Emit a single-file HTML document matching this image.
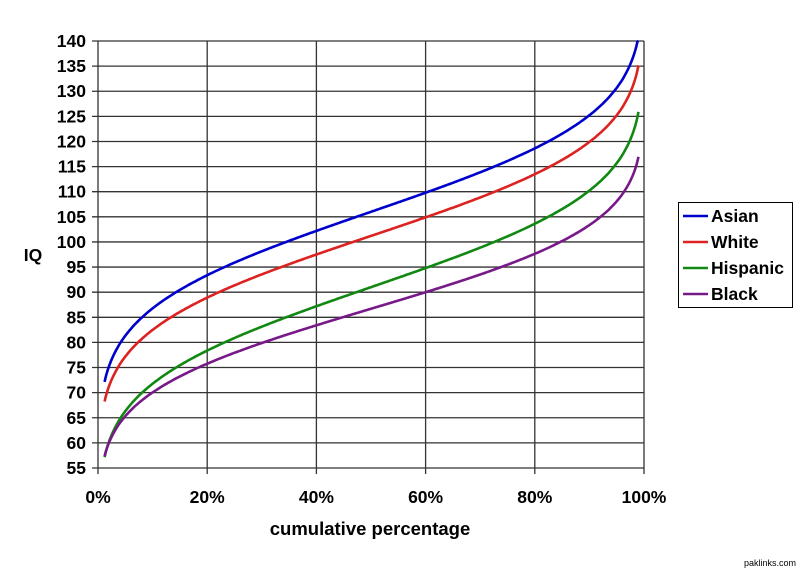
<!DOCTYPE html>
<html><head><meta charset="utf-8"><style>
body{margin:0;background:#fff;}
svg{display:block;font-family:"Liberation Sans",Arial,sans-serif;font-weight:bold;}
</style></head><body>
<svg id="s" width="802" height="571" viewBox="0 0 802 571">
<rect width="802" height="571" fill="#fff"/>
<g id="grid" stroke="#333" stroke-width="1.3"></g>
<g id="ylab" font-size="17.5" text-anchor="end" fill="#000"></g>
<g id="xlab" font-size="17.5" text-anchor="middle" fill="#000"></g>
<g id="curves" fill="none" stroke-width="2.6"></g>
<text x="33" y="261" font-size="17.5" text-anchor="middle">IQ</text>
<text x="370" y="535" font-size="18.5" text-anchor="middle">cumulative percentage</text>
<rect x="678.5" y="202.5" width="114" height="105" fill="#fff" stroke="#000" stroke-width="1"/>
<g font-size="17.5">
<line x1="683" y1="216" x2="708" y2="216" stroke="#0000cc" stroke-width="2.6"/><text x="711" y="222">Asian</text>
<line x1="683" y1="242" x2="708" y2="242" stroke="#dd2222" stroke-width="2.6"/><text x="711" y="248">White</text>
<line x1="683" y1="268" x2="708" y2="268" stroke="#118811" stroke-width="2.6"/><text x="711" y="274">Hispanic</text>
<line x1="683" y1="294" x2="708" y2="294" stroke="#771a88" stroke-width="2.6"/><text x="711" y="300">Black</text>
</g>
<text x="796" y="566" font-size="9" text-anchor="end" font-weight="normal">paklinks.com</text>
</svg>
<script>
var L=98,R=644,T=41,B=468;
function X(p){return L+(R-L)*p;}
function Y(v){return B-(v-55)/85*(B-T);}
var g=document.getElementById('grid'),yl=document.getElementById('ylab'),xl=document.getElementById('xlab');
var h='',t='';
for(var v=55;v<=140;v+=5){var y=Y(v);h+='<line x1="'+(L-6)+'" y1="'+y+'" x2="'+R+'" y2="'+y+'"/>';t+='<text x="86" y="'+(y+6)+'">'+v+'</text>';}
var tx='';
for(var i=0;i<=5;i++){var x=X(i/5);h+='<line x1="'+x+'" y1="'+T+'" x2="'+x+'" y2="'+(B+6)+'"/>';tx+='<text x="'+x+'" y="503">'+(i*20)+'%</text>';}
g.innerHTML=h;yl.innerHTML=t;xl.innerHTML=tx;
function inv(p){var a=[-39.6968302866538,220.946098424521,-275.928510446969,138.357751867269,-30.6647980661472,2.50662827745924],
b=[-54.4760987982241,161.585836858041,-155.698979859887,66.8013118877197,-13.2806815528857],
c=[-0.00778489400243029,-0.322396458041136,-2.40075827716184,-2.54973253934373,4.37466414146497,2.93816398269878],
d=[0.00778469570904146,0.32246712907004,2.445134137143,3.75440866190742],pl=0.02425,q,r;
if(p<pl){q=Math.sqrt(-2*Math.log(p));return(((((c[0]*q+c[1])*q+c[2])*q+c[3])*q+c[4])*q+c[5])/((((d[0]*q+d[1])*q+d[2])*q+d[3])*q+1);}
if(p>1-pl){q=Math.sqrt(-2*Math.log(1-p));return-(((((c[0]*q+c[1])*q+c[2])*q+c[3])*q+c[4])*q+c[5])/((((d[0]*q+d[1])*q+d[2])*q+d[3])*q+1);}
q=p-0.5;r=q*q;return(((((a[0]*r+a[1])*r+a[2])*r+a[3])*r+a[4])*r+a[5])*q/(((((b[0]*r+b[1])*r+b[2])*r+b[3])*r+b[4])*r+1);}
var S=[[106,15,'#0000cc',0.012,0.99],[101.2,14.6,'#dd2222',0.012,0.99],[91,15,'#118811',0.012,0.99],[86.7,13,'#771a88',0.012,0.99]];
var c='';
S.forEach(function(s){var d='';for(var p=s[3];p<=s[4]+1e-9;p+=0.002){var v=s[0]+s[1]*inv(p);if(v>140)v=140;d+=(d?'L':'M')+X(p).toFixed(1)+','+Y(v).toFixed(1);}c+='<path d="'+d+'" stroke="'+s[2]+'"/>';});
document.getElementById('curves').innerHTML=c;
</script>
</body></html>
